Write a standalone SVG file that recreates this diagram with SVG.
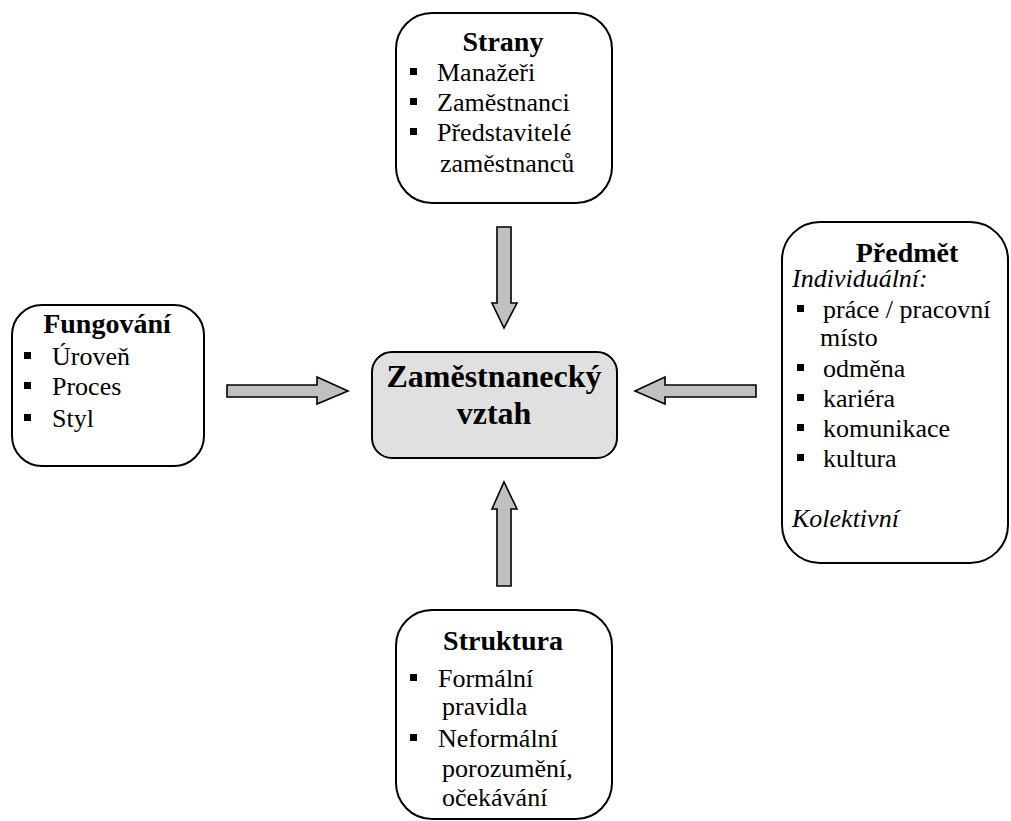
<svg xmlns="http://www.w3.org/2000/svg" width="1011" height="821" viewBox="0 0 1011 821">
<style>
.box{fill:#fff;stroke:#000;stroke-width:2}
.center{fill:#e0e0e0;stroke:#000;stroke-width:2}
.arrow{fill:#c0c0c0;stroke:#000;stroke-width:1.6;stroke-linejoin:miter}
.t{font-family:"Liberation Serif","Times New Roman",serif;font-size:28px;font-weight:bold;text-anchor:middle;fill:#000}
.c{font-family:"Liberation Serif","Times New Roman",serif;font-size:32px;font-weight:bold;text-anchor:middle;fill:#000}
.i{font-family:"Times New Roman","Liberation Serif",Tinos,"Nimbus Roman","DejaVu Serif",serif;font-size:26px;font-weight:400;fill:#000}
.it{font-family:"Times New Roman","Liberation Serif",Tinos,"Nimbus Roman","DejaVu Serif",serif;font-size:26px;font-weight:400;font-style:italic;fill:#000}
.b{fill:#000}
</style>
<rect width="1011" height="821" fill="#fff"/>
<g id="connectors">
<polygon class="arrow" points="497,227 511,227 511,303 517,303 504,328 492,303 497,303"/>
<polygon class="arrow" points="497,586 511,586 511,509 517,509 504,482 492,509 497,509"/>
<polygon class="arrow" points="227,385 317,385 317,377 348,391 317,404 317,397 227,397"/>
<polygon class="arrow" points="756,385 665,385 665,377 635,391 665,404 665,397 756,397"/>
</g>
<g id="strany">
<rect class="box" x="396" y="13" width="216" height="190" rx="36" ry="36"/>
<text class="t" x="503" y="51">Strany</text>
<rect class="b" x="410" y="68" width="7" height="7"/>
<text class="i" x="437" y="81">Manažeři</text>
<rect class="b" x="410" y="98" width="7" height="7"/>
<text class="i" x="437" y="111">Zaměstnanci</text>
<rect class="b" x="410" y="128" width="7" height="7"/>
<text class="i" x="437" y="141">Představitelé</text>
<text class="i" x="440" y="172">zaměstnanců</text>
</g>
<g id="fungovani">
<rect class="box" x="12" y="305" width="192" height="161" rx="30" ry="30"/>
<text class="t" x="107" y="333">Fungování</text>
<rect class="b" x="24" y="352" width="7" height="7"/>
<text class="i" x="52" y="365">Úroveň</text>
<rect class="b" x="24" y="382" width="7" height="7"/>
<text class="i" x="52" y="395">Proces</text>
<rect class="b" x="24" y="414" width="7" height="7"/>
<text class="i" x="52" y="427">Styl</text>
</g>
<g id="vztah">
<rect class="center" x="372" y="352" width="245" height="106" rx="20" ry="20"/>
<text class="c" x="494" y="387">Zaměstnanecký</text>
<text class="c" x="494" y="424">vztah</text>
</g>
<g id="predmet">
<rect class="box" x="782" y="222" width="226" height="341" rx="38" ry="38"/>
<text class="t" x="907" y="262">Předmět</text>
<text class="it" x="792" y="287">Individuální:</text>
<rect class="b" x="797" y="305" width="7" height="7"/>
<text class="i" x="823" y="318">práce / pracovní</text>
<text class="i" x="820" y="346">místo</text>
<rect class="b" x="797" y="364" width="7" height="7"/>
<text class="i" x="823" y="377">odměna</text>
<rect class="b" x="797" y="394" width="7" height="7"/>
<text class="i" x="823" y="407">kariéra</text>
<rect class="b" x="797" y="424" width="7" height="7"/>
<text class="i" x="823" y="437">komunikace</text>
<rect class="b" x="797" y="454" width="7" height="7"/>
<text class="i" x="823" y="467">kultura</text>
<text class="it" x="792" y="527">Kolektivní</text>
</g>
<g id="struktura">
<rect class="box" x="396" y="610" width="216" height="209" rx="36" ry="36"/>
<text class="t" x="503" y="650">Struktura</text>
<rect class="b" x="410" y="674" width="7" height="7"/>
<text class="i" x="438" y="687">Formální</text>
<text class="i" x="442" y="715">pravidla</text>
<rect class="b" x="410" y="734" width="7" height="7"/>
<text class="i" x="438" y="747">Neformální</text>
<text class="i" x="442" y="777">porozumění,</text>
<text class="i" x="442" y="806">očekávání</text>
</g>
</svg>
